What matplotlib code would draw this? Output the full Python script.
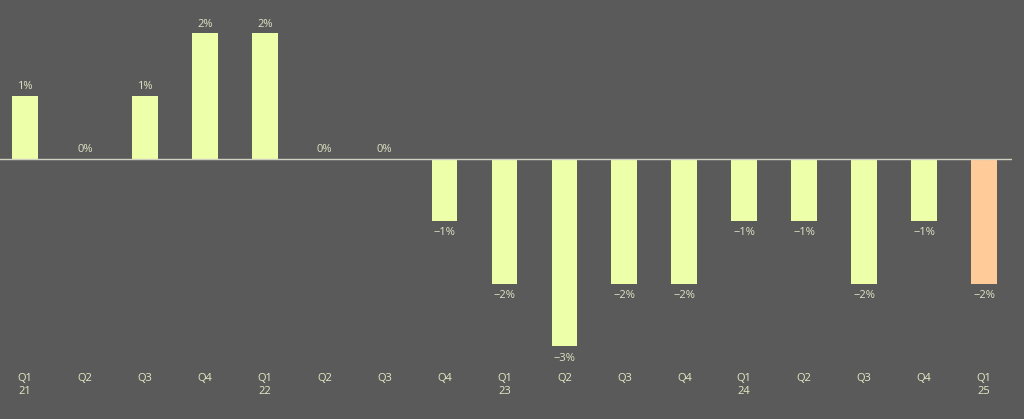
import matplotlib.pyplot as plt

quarters = ['Q1\n21', 'Q2', 'Q3', 'Q4', 'Q1\n22', 'Q2', 'Q3', 'Q4',
            'Q1\n23', 'Q2', 'Q3', 'Q4', 'Q1\n24', 'Q2', 'Q3', 'Q4', 'Q1\n25']
values = [1, 0, 1, 2, 2, 0, 0, -1, -2, -3, -2, -2, -1, -1, -2, -1, -2]
labels = ['1%', '0%', '1%', '2%', '2%', '0%', '0%', '\u22121%', '\u22122%', '\u22123%',
          '\u22122%', '\u22122%', '\u22121%', '\u22121%', '\u22122%', '\u22121%', '\u22122%']

bg = '#5a5a5a'
bar_col = '#eeffaa'
last_col = '#ffcc99'
txt_col = '#dfe3c4'

plt.rcParams['font.family'] = ['Open Sans', 'DejaVu Sans']

fig = plt.figure(figsize=(10.24, 4.19), dpi=100, facecolor=bg)
# axes spans px x 0..1012, y 10..365
ax = fig.add_axes([0, 54 / 419, 1012 / 1024, 355 / 419], facecolor=bg)

x = list(range(len(values)))
colors = [bar_col] * (len(values) - 1) + [last_col]
ax.bar(x, values, width=0.43, color=colors, zorder=2)
ax.axhline(0, color='#d0d0c0', lw=1, zorder=3)

for xi, v, lab in zip(x, values, labels):
    if v >= 0:
        ax.text(xi, v + 0.06, lab, ha='center', va='bottom', fontsize=8, color=txt_col)
    else:
        ax.text(xi, v - 0.1, lab, ha='center', va='top', fontsize=8, color=txt_col)

ax.set_xlim(-0.417, 16.467)
ax.set_ylim(-(365 - 158.5) / 62.6, (158.5 - 10) / 62.6)
ax.set_xticks(x)
ax.set_xticklabels(quarters, fontsize=8, color='#e6ebc4', linespacing=1.2)
ax.tick_params(axis='x', length=0, pad=6)
ax.set_yticks([])
for s in ax.spines.values():
    s.set_visible(False)

fig.savefig('out.png', dpi=100, facecolor=bg)
